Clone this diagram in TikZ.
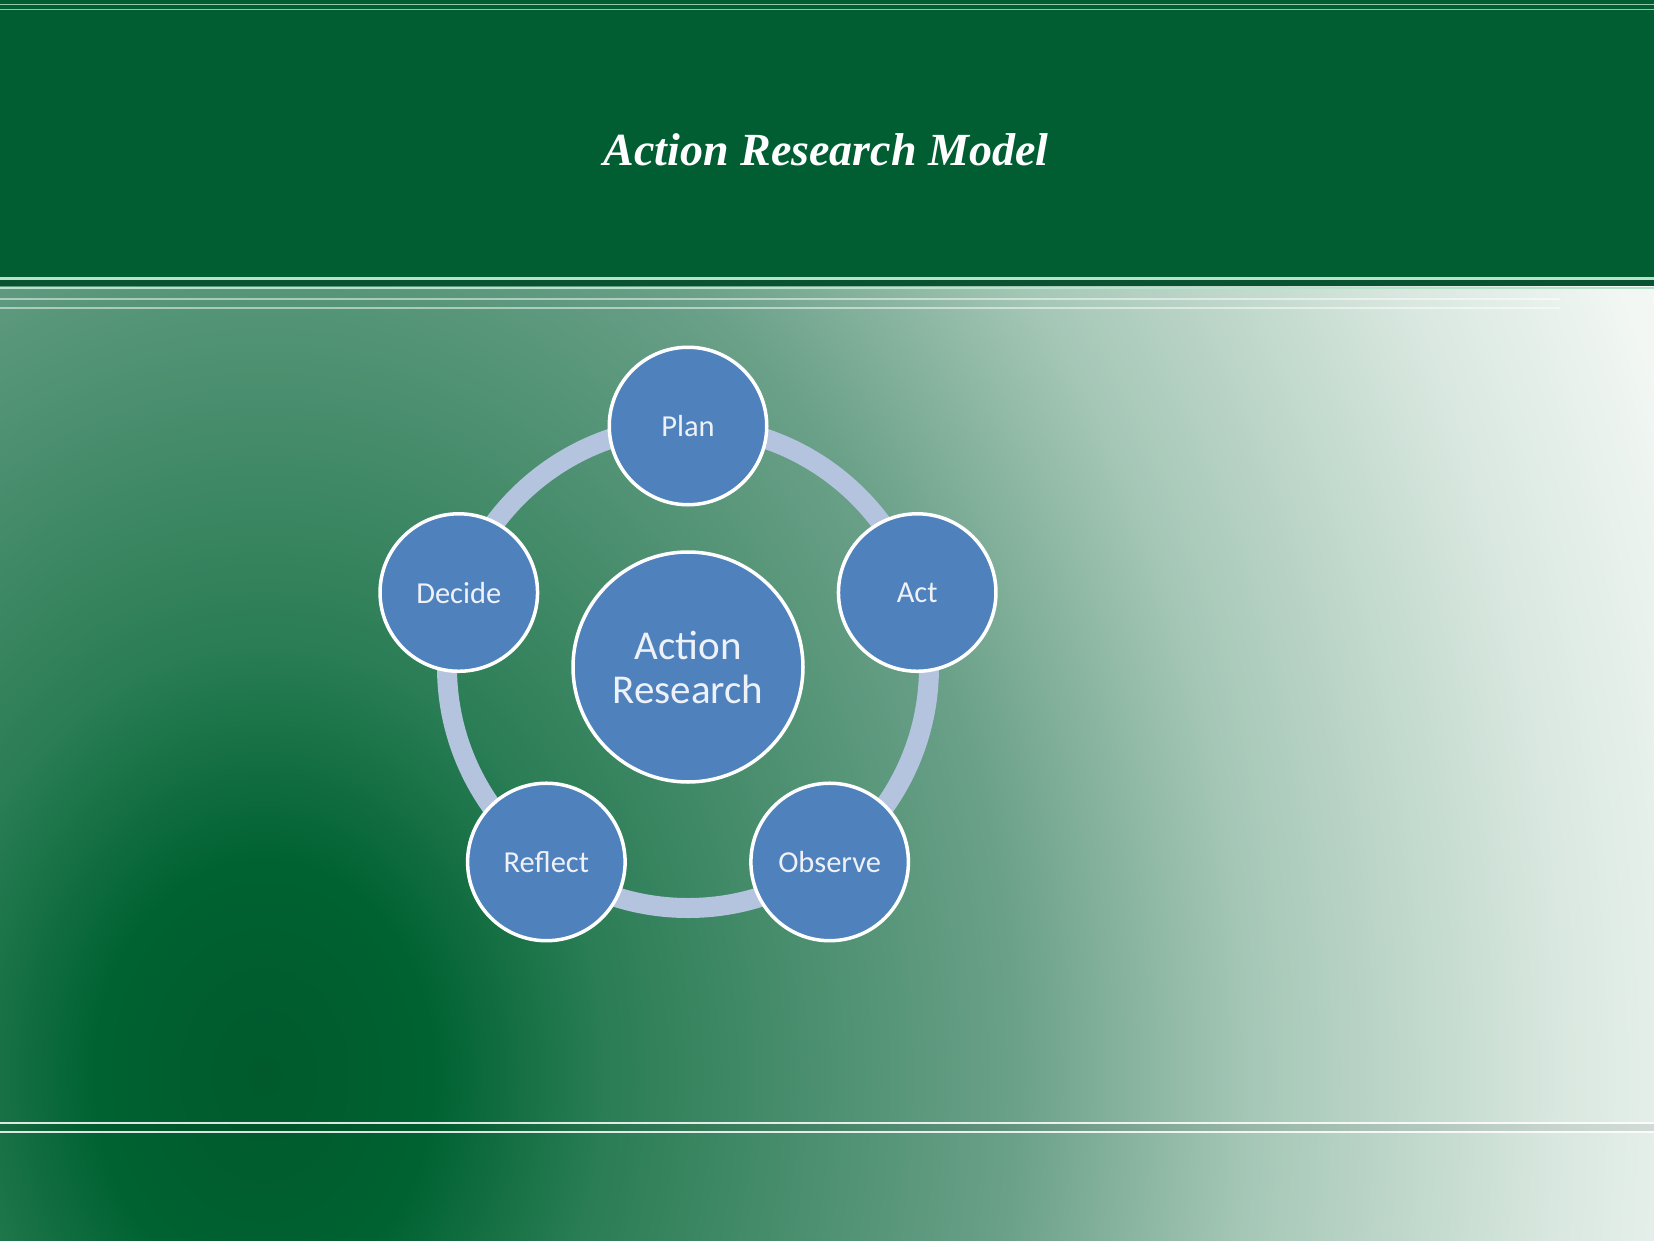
\documentclass[tikz,border=0pt]{standalone}
\usepackage{fontspec}
\newfontfamily\titlefont{Liberation Serif}
\newfontfamily\calfont{Carlito}
\definecolor{hdr}{HTML}{005E32}
\definecolor{hdrdark}{HTML}{0A5330}
\definecolor{mint}{HTML}{B8E2CB}
\definecolor{cblue}{HTML}{4F81BD}
\definecolor{ringc}{HTML}{B4C3DE}
\definecolor{ctext}{HTML}{EEF2F8}
\definecolor{bgA}{HTML}{005A2C}
\definecolor{bgB}{HTML}{006231}
\definecolor{bgC}{HTML}{2A7D55}
\definecolor{bgD}{HTML}{6AA088}
\definecolor{bgE}{HTML}{A5C7B6}
\definecolor{bgF}{HTML}{D8E7DF}
\definecolor{bgG}{HTML}{F2F7F4}
\definecolor{bgH}{HTML}{F8FAF9}
\pgfdeclareradialshading{bgshade}{\pgfpoint{0bp}{0bp}}{color(0bp)=(bgA); color(2.5bp)=(bgB); color(5bp)=(bgC); color(11bp)=(bgD); color(14.5bp)=(bgE); color(19bp)=(bgF); color(22bp)=(bgG); color(25bp)=(bgH); color(50bp)=(bgH)}
\begin{document}
\begin{tikzpicture}[x=1pt,y=-1pt,
  stage/.style={circle, draw=white, line width=3.5pt, fill=cblue, minimum size=157.5pt, inner sep=0pt, text=ctext, font=\calfont\fontsize{30.5}{32}\selectfont},
  hubnode/.style={stage, minimum size=230pt, align=center, font=\calfont\fontsize{41}{44}\selectfont},
  ringline/.style={draw=ringc, line width=20pt},
  rule/.style={draw=mint, line width=2pt},
  faint/.style={draw=white, line width=2pt, opacity=0.5}]
\useasboundingbox (0,0) rectangle (1654,1241);
% header
\fill[hdr] (0,0) rectangle (1654,286);
% body gradient
\begin{scope}
  \clip (0,286) rectangle (1654,1241);
  \shade[shading=bgshade] (264,1075) ellipse (1700pt and 2150pt);
\end{scope}
% decorative rules
\draw[rule, line width=1.5pt, opacity=0.8] (0,4.5) -- (1654,4.5);
\draw[rule, line width=1.5pt, opacity=0.8] (0,9.5) -- (1654,9.5);
\draw[rule, line width=2.5pt] (0,278.5) -- (1654,278.5);
\fill[hdrdark] (0,280) rectangle (1654,286);
\draw[rule, line width=2pt] (0,288) -- (1654,288);
\draw[faint] (0,299.5) -- (1560,299.5);
\draw[faint] (0,308) -- (1560,308);
\fill[black, opacity=0.08] (0,1124) rectangle (1654,1131);
\draw[rule, draw=white, opacity=0.85, line width=2.2pt] (0,1123) -- (1654,1123);
\draw[rule, draw=white, opacity=0.85, line width=2.2pt] (0,1132) -- (1654,1132);
% title
\node[font=\titlefont\bfseries\itshape\fontsize{46}{50}\selectfont, text=white, anchor=base, inner sep=0pt] (title) at (826,166) {Action Research Model};
% cycle
\coordinate (hub) at (688,667);
\draw[ringline] (hub) circle (241pt);
\node[hubnode] (center) at (hub) {Action\\Research};
\node[stage] (plan) at ([shift={(90:241pt)}]hub) {Plan};
\node[stage] (act) at ([shift={(18:241pt)}]hub) {Act};
\node[stage] (observe) at ([shift={(-54:241pt)}]hub) {Observe};
\node[stage] (reflect) at ([shift={(-126:241pt)}]hub) {Reflect};
\node[stage] (decide) at ([shift={(162:241pt)}]hub) {Decide};
\end{tikzpicture}
\end{document}
